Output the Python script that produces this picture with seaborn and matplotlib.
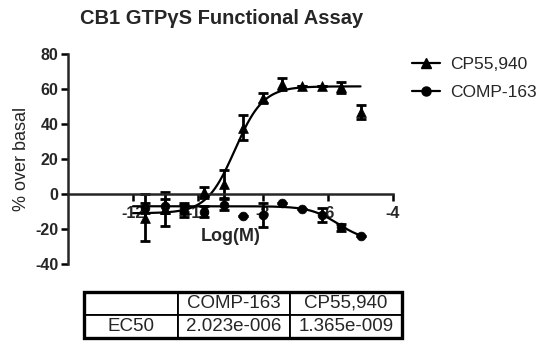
import numpy as np
import matplotlib
matplotlib.use("Agg")
import matplotlib.pyplot as plt
import seaborn as sns
from matplotlib.patches import Rectangle

# log molar concentrations (1:4 serial dilution from 10 uM)
log_conc = [-11.62, -11.02, -10.42, -9.82, -9.21, -8.61, -8.01, -7.41, -6.81, -6.20, -5.60, -5.00]

cp_mean = [-13.5, -8.5, -9, 1, 6, 38, 55, 63, 62, 62, 61, 47]
cp_err = [13.5, 9.5, 4, 3, 8, 7, 3, 3.5, 0, 0, 3, 4]

comp_mean = [-8, -7, -8, -10, -6, -12.5, -12, -5, -8.5, -12, -19, -24]
comp_err = [3, 4, 2, 3, 3, 0, 7, 0, 0, 4, 2, 0]

# fitted curve parameters
cp_bottom, cp_top, cp_ec50, cp_hill = -11.0, 61.5, 1.365e-9, 1.0
comp_top, comp_bottom, comp_ec50, comp_hill = -7.0, -27.0, 2.023e-6, 1.0

series_names = ["CP55,940", "COMP-163"]
table_cols = ["", "COMP-163", "CP55,940"]
table_row = ["EC50", "2.023e-006", "1.365e-009"]

x_ticks = [-12, -10, -8, -6, -4]
y_ticks = [-40, -20, 0, 20, 40, 60, 80]

sns.set_theme(style="ticks")
plt.rcParams['font.family'] = ['Liberation Sans', 'DejaVu Sans']

W, H = 550, 347
fig = plt.figure(figsize=(W / 100, H / 100), dpi=100)
ax = fig.add_axes([68 / W, 1 - 264 / H, (393 - 68) / W, (264 - 54) / H])

xfit = np.linspace(-12, -5, 200)
cp_fit = cp_bottom + (cp_top - cp_bottom) / (1 + 10 ** ((np.log10(cp_ec50) - xfit) * cp_hill))
comp_fit = comp_bottom + (comp_top - comp_bottom) / (1 + 10 ** ((xfit - np.log10(comp_ec50)) * comp_hill))

sns.lineplot(x=xfit, y=cp_fit, ax=ax, color="black", lw=1.6)
sns.lineplot(x=xfit, y=comp_fit, ax=ax, color="black", lw=1.6)

ax.errorbar(log_conc, cp_mean, yerr=cp_err, fmt="none", ecolor="black",
            elinewidth=2, capsize=3.5, capthick=2)
ax.errorbar(log_conc, comp_mean, yerr=comp_err, fmt="none", ecolor="black",
            elinewidth=2, capsize=3.5, capthick=2)
sns.scatterplot(x=log_conc, y=cp_mean, ax=ax, marker="^", s=50, color="black",
                edgecolor="black", linewidth=0.5, zorder=5)
sns.scatterplot(x=log_conc, y=comp_mean, ax=ax, marker="o", s=40, color="black",
                edgecolor="black", linewidth=0.5, zorder=5)

ax.set_xlim(-14, -4)
ax.set_ylim(-40, 80)
ax.spines['top'].set_visible(False)
ax.spines['right'].set_visible(False)
ax.spines['bottom'].set_position(('data', 0))
ax.spines['left'].set_linewidth(1.8)
ax.spines['bottom'].set_linewidth(1.8)
ax.set_xticks(x_ticks)
ax.set_yticks(y_ticks)
ax.set_xticklabels([str(t) for t in x_ticks], fontsize=11.5, fontweight="bold")
ax.set_yticklabels([str(t) for t in y_ticks], fontsize=11.5, fontweight="bold")
ax.tick_params(axis="both", length=5, width=1.8, color="black", pad=2)
ax.tick_params(axis="x", pad=4)
ax.set_xlabel("")
ax.set_ylabel("")
ax.text(-9, -24.5, "Log(M)", ha="center", va="center", fontsize=13, fontweight="bold")

fig.text(222 / W, 1 - 18 / H, "CB1 GTP\u03b3S Functional Assay", ha="center", va="center",
         fontsize=14.5, fontweight="bold")
fig.text(22 / W, 1 - 159 / H, "% over basal", ha="center", va="center", rotation=90,
         fontsize=13)

handles = [
    plt.Line2D([], [], color="black", lw=1.6, marker="^", markersize=7),
    plt.Line2D([], [], color="black", lw=1.6, marker="o", markersize=6.5),
]
fig.legend(handles, series_names, loc="upper left", bbox_to_anchor=(412 / W, 1 - 57 / H),
           frameon=False, fontsize=12.5, handlelength=1.6, handletextpad=0.6,
           labelspacing=0.75, borderpad=0, borderaxespad=0)

# EC50 table
tax = fig.add_axes([84 / W, 1 - 338 / H, (402 - 84) / W, 46 / H])
tax.axis("off")
widths = np.array([94, 112, 112]) / 318
tbl = tax.table(cellText=[table_cols, table_row], cellLoc="center", colWidths=list(widths),
                bbox=[0, 0, 1, 1])
tbl.auto_set_font_size(False)
for (r, c), cell in tbl.get_celld().items():
    cell.set_linewidth(1.3)
    cell.set_edgecolor("black")
    cell.get_text().set_fontsize(13.5)
tax.add_patch(Rectangle((0, 0), 1, 1, transform=tax.transAxes, fill=False, lw=2.4,
                        edgecolor="black", clip_on=False))

fig.savefig("out.png", dpi=100)
